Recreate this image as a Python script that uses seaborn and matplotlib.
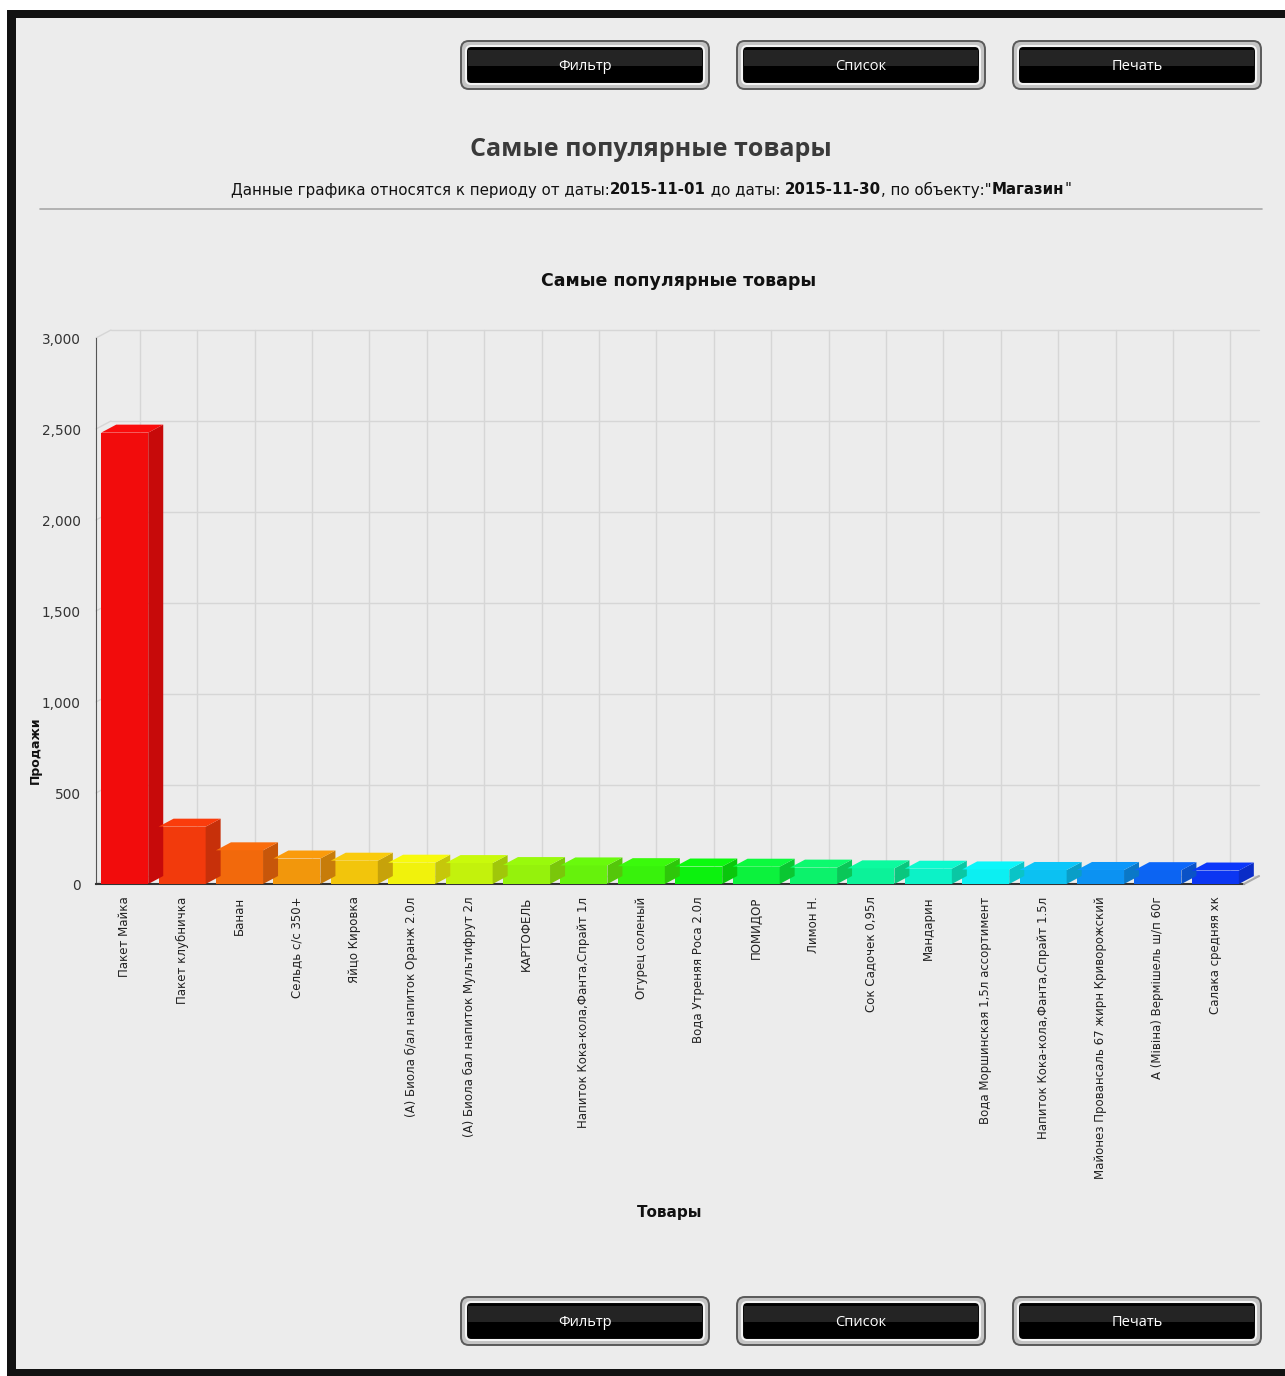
import colorsys
import matplotlib
matplotlib.use("Agg")
import matplotlib.pyplot as plt
import seaborn as sns
import pandas as pd
from matplotlib.patches import Polygon, FancyBboxPatch, Rectangle

# data
products = [
    "Пакет Майка", "Пакет клубничка", "Банан", "Сельдь с/с 350+", "Яйцо Кировка",
    "(А) Биола б/ал напиток Оранж 2.0л", "(А) Биола бал напиток Мультифрут 2л",
    "КАРТОФЕЛЬ", "Напиток Кока-кола,Фанта,Спрайт 1л", "Огурец соленый",
    "Вода Утреняя Роса 2.0л", "ПОМИДОР", "Лимон Н.", "Сок Садочек 0,95л", "Мандарин",
    "Вода Моршинская 1,5л ассортимент", "Напиток Кока-кола,Фанта,Спрайт 1.5л",
    "Майонез Провансаль 67 жирн Криворожский", "А (Мівіна) Вермішель ш/п 60г",
    "Салака средняя хк",
]
sales = [2480, 315, 185, 140, 128, 117, 115, 104, 102, 98,
         96, 95, 90, 86, 84, 80, 77, 77, 76, 74]
y_ticks = [0, 500, 1000, 1500, 2000, 2500, 3000]
buttons = ["Фильтр", "Список", "Печать"]

W, H = 1285, 1376
BG = "#ececec"
DX, DY = 15, 8  # 3d depth in pixels

# rainbow colours red -> blue
colors = [colorsys.hsv_to_rgb(0.0 + i * 0.0335, 0.95, 0.95) for i in range(len(products))]
palette = dict(zip(products, colors))

df = pd.DataFrame({"product": products, "sales": sales})

sns.set_style("white")
plt.rcParams["font.family"] = ["DejaVu Sans"]

fig = plt.figure(figsize=(W / 100, H / 100), dpi=100)
fig.patch.set_facecolor("white")

# page frame
fig.patches.append(Rectangle((7 / W, 0), 1, 1 - 10 / H, transform=fig.transFigure,
                             facecolor="#121212", edgecolor="none", zorder=-2))
fig.patches.append(Rectangle((16 / W, 7 / H), 1, 1 - 25 / H, transform=fig.transFigure,
                             facecolor=BG, edgecolor="none", zorder=-1))

ax = fig.add_axes([96 / W, 1 - 884 / H, (1244 - 96) / W, (884 - 338) / H])
ax.set_facecolor("none")

sns.barplot(data=df, x="product", y="sales", hue="product", palette=palette,
            dodge=False, legend=False, width=0.82, saturation=1, linewidth=0,
            ax=ax, zorder=3)
ax.set_xlim(-0.5, len(products) - 0.5)
ax.set_ylim(0, 3000)
ax.set_yticks(y_ticks)
ax.set_yticklabels([f"{v:,}" for v in y_ticks], fontsize=9.8, color="#333333")
ax.set_xticks(range(len(products)))
ax.set_xticklabels(products, rotation=90, fontsize=8.5, color="#222222",
                   va="top", ha="center")
ax.tick_params(axis="y", length=5, width=1, color="#555555", pad=6)
ax.tick_params(axis="x", length=5, width=1, color="#555555", pad=4)
ax.set_xlabel("")
ax.set_ylabel("")

for s in ["top", "right"]:
    ax.spines[s].set_visible(False)
ax.spines["left"].set_color("#555555")
ax.spines["bottom"].set_color("#333333")
ax.spines["bottom"].set_linewidth(1.5)

off = matplotlib.transforms.ScaledTranslation(DX / 100, DY / 100, fig.dpi_scale_trans)

# back grid (shifted by depth)
for v in y_ticks:
    ln = ax.axhline(v, color="#d6d6d6", lw=1, zorder=0)
    ln.set_transform(ln.get_transform() + off)
    ln.set_clip_on(False)
    ax.annotate("", xy=(-0.5, v), xytext=(DX * 0.72, DY * 0.72), textcoords="offset points",
                arrowprops=dict(arrowstyle="-", color="#d6d6d6", lw=1,
                                shrinkA=0, shrinkB=0), annotation_clip=False, zorder=0)
for i in range(len(products)):
    ln = ax.axvline(i, color="#d6d6d6", lw=1, zorder=0)
    ln.set_transform(ln.get_transform() + off)
    ln.set_clip_on(False)
ax.annotate("", xy=(len(products) - 0.5, 0), xytext=(DX * 0.72, DY * 0.72),
            textcoords="offset points",
            arrowprops=dict(arrowstyle="-", color="#aaaaaa", lw=1.5, shrinkA=0, shrinkB=0),
            annotation_clip=False)

# 3d sides and tops from the bar patches
fig.canvas.draw()
to_disp = ax.transData.transform
to_data = ax.transData.inverted().transform


def shade(c, f):
    return tuple(min(1, max(0, x * f)) for x in c[:3])


for p in ax.patches:
    x0, w, h = p.get_x(), p.get_width(), p.get_height()
    c = p.get_facecolor()
    fl = to_disp((x0, 0))
    fr = to_disp((x0 + w, 0))
    tl = to_disp((x0, h))
    tr = to_disp((x0 + w, h))
    sh = (DX, DY)
    side = [fr, tr, tr + sh, fr + sh]
    top = [tl, tr, tr + sh, tl + sh]
    ax.add_patch(Polygon(to_data(side), closed=True, facecolor=shade(c, 0.82),
                         edgecolor="none", clip_on=False, zorder=3))
    ax.add_patch(Polygon(to_data(top), closed=True, facecolor=shade(c, 1.03),
                         edgecolor="none", clip_on=False, zorder=3))

# texts
fig.text(651 / W, 1 - 149 / H, "Самые популярные товары", ha="center", va="center",
         fontsize=18, fontweight="bold", color="#3a3a3a",
         family=["Open Sans", "DejaVu Sans"])
fig.text(679 / W, 1 - 281 / H, "Самые популярные товары", ha="center", va="center",
         fontsize=12.5, fontweight="bold", color="#111111")
fig.text(35 / W, 1 - 750 / H, "Продажи", ha="center", va="center", rotation=90,
         fontsize=9, fontweight="bold", color="#111111")
fig.text(670 / W, 1 - 1212 / H, "Товары", ha="center", va="center",
         fontsize=11, fontweight="bold", color="#111111")

# subtitle with mixed weights
pieces = [("Данные графика относятся к периоду от даты:", "normal"),
          ("2015-11-01", "bold"), (" до даты: ", "normal"), ("2015-11-30", "bold"),
          (", по объекту:\"", "normal"), ("Магазин", "bold"), ("\"", "normal")]
renderer = fig.canvas.get_renderer()
arts = []
for txt, wt in pieces:
    t = fig.text(0, 1 - 190 / H, txt, ha="left", va="center", fontsize=10.8,
                 fontweight=wt, color="#111111")
    arts.append(t)
widths = [a.get_window_extent(renderer).width for a in arts]
x = 651 - sum(widths) / 2
for a, w_ in zip(arts, widths):
    a.set_x(x / W)
    x += w_

fig.add_artist(matplotlib.lines.Line2D([40 / W, 1262 / W], [1 - 209 / H] * 2,
                                       color="#a8a8a8", lw=1.2))

# buttons
for yc in (65, 1321):
    for i, label in enumerate(buttons):
        x0 = 461 + i * 276
        bw, bh = 248, 48
        fig.patches.append(FancyBboxPatch((x0 / W, 1 - (yc + bh / 2) / H), bw / W, bh / H,
                                          boxstyle="round,pad=0,rounding_size=0.006",
                                          transform=fig.transFigure, facecolor="#c4c4c4",
                                          edgecolor="#5a5a5a", lw=1.4))
        fig.patches.append(FancyBboxPatch(((x0 + 5) / W, 1 - (yc + bh / 2 - 5) / H),
                                          (bw - 10) / W, (bh - 10) / H,
                                          boxstyle="round,pad=0,rounding_size=0.004",
                                          transform=fig.transFigure, facecolor="#000000",
                                          edgecolor="#f4f4f4", lw=1.5))
        fig.patches.append(Rectangle(((x0 + 7) / W, 1 - (yc + 1) / H), (bw - 14) / W, 16 / H,
                                     transform=fig.transFigure, facecolor="#242424",
                                     edgecolor="none"))
        fig.text((x0 + bw / 2) / W, 1 - (yc + 1) / H, label, ha="center", va="center",
                 fontsize=10.5, color="white", family=["Open Sans", "DejaVu Sans"])

fig.savefig("out.png", dpi=100, facecolor=fig.get_facecolor())
